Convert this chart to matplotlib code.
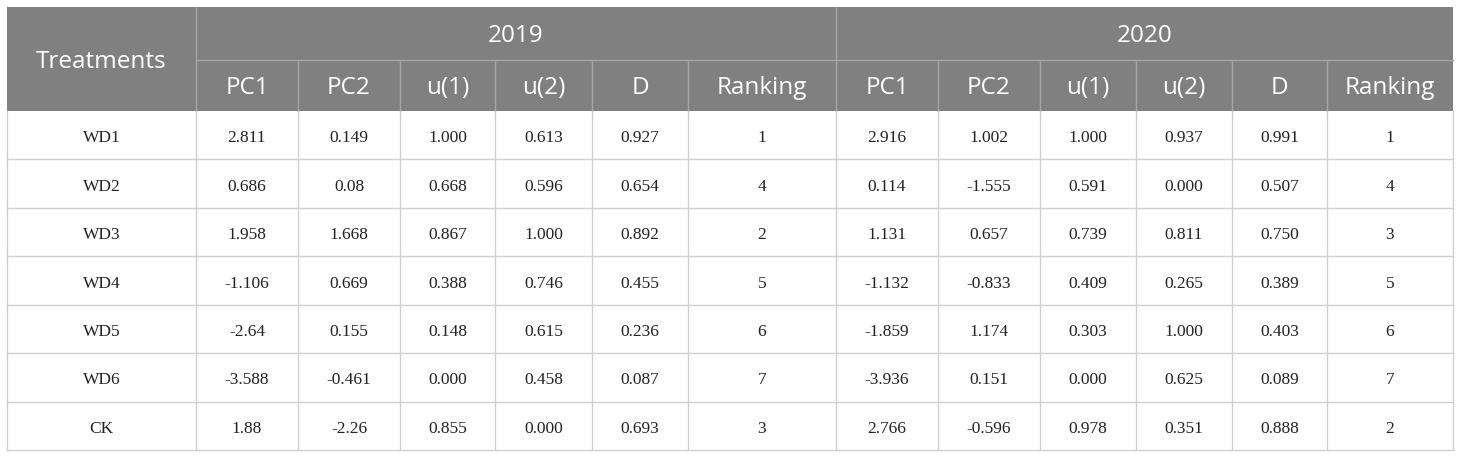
import matplotlib
matplotlib.use("Agg")
import matplotlib.pyplot as plt
from matplotlib.patches import Rectangle

# table content
years = ["2019", "2020"]
sub_headers = ["PC1", "PC2", "u(1)", "u(2)", "D", "Ranking"]
treatments = ["WD1", "WD2", "WD3", "WD4", "WD5", "WD6", "CK"]

pc1_2019 = ["2.811", "0.686", "1.958", "-1.106", "-2.64", "-3.588", "1.88"]
pc2_2019 = ["0.149", "0.08", "1.668", "0.669", "0.155", "-0.461", "-2.26"]
u1_2019 = ["1.000", "0.668", "0.867", "0.388", "0.148", "0.000", "0.855"]
u2_2019 = ["0.613", "0.596", "1.000", "0.746", "0.615", "0.458", "0.000"]
d_2019 = ["0.927", "0.654", "0.892", "0.455", "0.236", "0.087", "0.693"]
rank_2019 = ["1", "4", "2", "5", "6", "7", "3"]

pc1_2020 = ["2.916", "0.114", "1.131", "-1.132", "-1.859", "-3.936", "2.766"]
pc2_2020 = ["1.002", "-1.555", "0.657", "-0.833", "1.174", "0.151", "-0.596"]
u1_2020 = ["1.000", "0.591", "0.739", "0.409", "0.303", "0.000", "0.978"]
u2_2020 = ["0.937", "0.000", "0.811", "0.265", "1.000", "0.625", "0.351"]
d_2020 = ["0.991", "0.507", "0.750", "0.389", "0.403", "0.089", "0.888"]
rank_2020 = ["1", "4", "3", "5", "6", "7", "2"]

columns = [treatments,
           pc1_2019, pc2_2019, u1_2019, u2_2019, d_2019, rank_2019,
           pc1_2020, pc2_2020, u1_2020, u2_2020, d_2020, rank_2020]

# layout in pixels
W, H = 1460, 458
col_edges = [7, 196, 298, 400, 495, 592, 688, 836, 938, 1040, 1136, 1232, 1327, 1453]
top, h1, h2, bottom = 7, 60, 111, 450
n_rows = len(treatments)
row_h = (bottom - h2) / n_rows

header_bg = "#808080"
header_line = "#a6a6a6"
grid = "#cfcfcf"

fig = plt.figure(figsize=(W / 100, H / 100), dpi=100)
ax = fig.add_axes([0, 0, 1, 1])
ax.set_xlim(0, W)
ax.set_ylim(H, 0)
ax.axis("off")

# header background
ax.add_patch(Rectangle((col_edges[0], top), col_edges[-1] - col_edges[0], h2 - top,
                       facecolor=header_bg, edgecolor="none"))

hfont = dict(family="Open Sans", color="white", fontsize=17.5, ha="center", va="center")
dfont = dict(family="Liberation Serif", color="#222222", fontsize=12.5, ha="center", va="center")

ax.text((col_edges[0] + col_edges[1]) / 2, (top + h2) / 2 + 3, "Treatments", **hfont)
for yi, year in enumerate(years):
    x0 = col_edges[1 + 6 * yi]
    x1 = col_edges[7 + 6 * yi]
    ax.text((x0 + x1) / 2, (top + h1) / 2 + 3, year, **hfont)
    ax.plot([x0, x1], [h1, h1], color=header_line, lw=1)
    for si, name in enumerate(sub_headers):
        c0 = col_edges[1 + 6 * yi + si]
        c1 = col_edges[2 + 6 * yi + si]
        ax.text((c0 + c1) / 2, (h1 + h2) / 2 + 3, name, **hfont)

# header vertical lines
ax.plot([col_edges[1]] * 2, [top, h2], color=header_line, lw=1)
ax.plot([col_edges[7]] * 2, [top, h2], color=header_line, lw=1)
for i in range(2, 13):
    if i != 7:
        ax.plot([col_edges[i]] * 2, [h1, h2], color=header_line, lw=1)

# data cells
for r in range(n_rows):
    yc = h2 + (r + 0.5) * row_h
    for c, col in enumerate(columns):
        ax.text((col_edges[c] + col_edges[c + 1]) / 2, yc + 3, col[r], **dfont)
    ax.plot([col_edges[0], col_edges[-1]], [h2 + (r + 1) * row_h] * 2, color=grid, lw=1)
for x in col_edges:
    ax.plot([x, x], [h2, bottom], color=grid, lw=1)

fig.savefig("out.png", dpi=100, facecolor="white")
